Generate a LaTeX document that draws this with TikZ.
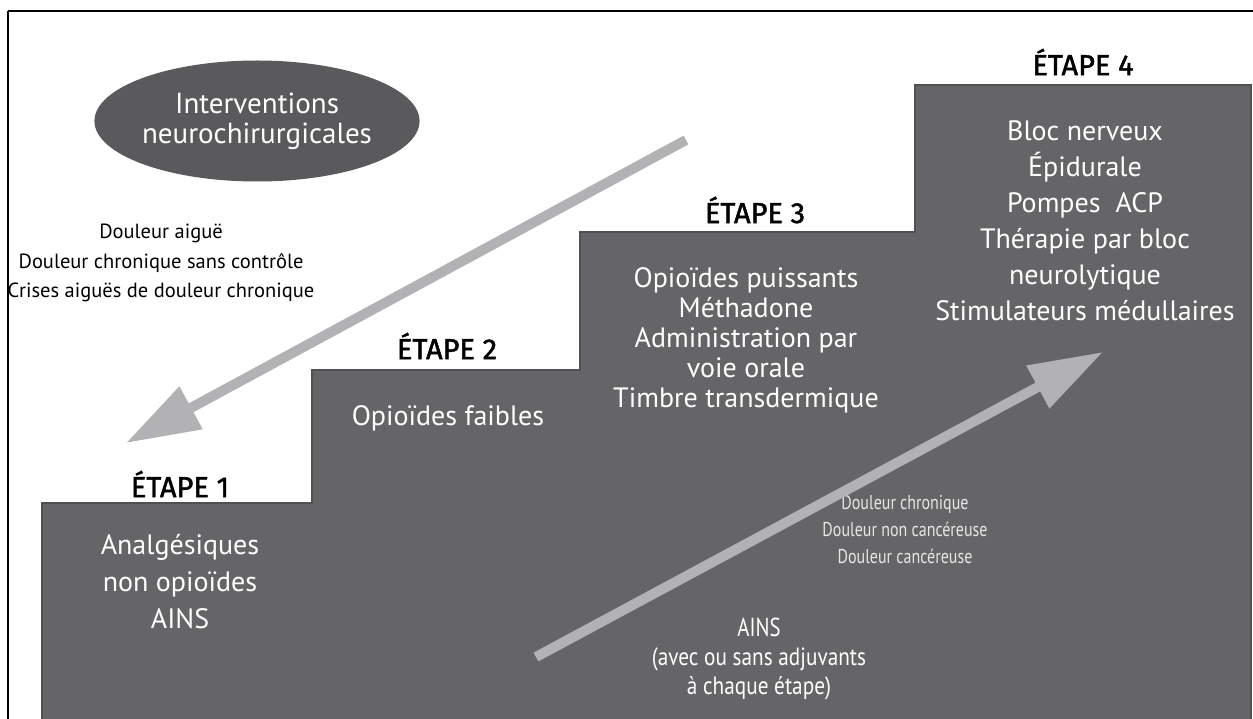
\documentclass[tikz,border=0pt]{standalone}
\usepackage{fontspec}
\setmainfont{PT Sans}
\newfontfamily\smallnarrow[FakeStretch=0.8]{PT Sans}
\newfontfamily\adjfont[FakeStretch=0.85]{PT Sans}
\newfontfamily\titlefont[FakeBold=1.6]{Fira Sans}
\usetikzlibrary{arrows.meta,shapes.geometric}
\definecolor{stairgray}{HTML}{656567}
\definecolor{stairedge}{HTML}{505052}
\definecolor{ellgray}{HTML}{5A5A5C}
\definecolor{arrowgray}{HTML}{B2B2B4}
\definecolor{paletext}{HTML}{E6E6E6}
\tikzset{
  steptitle/.style={text=black, font=\titlefont\fontsize{29}{30}\selectfont, inner sep=0pt},
  stepbody/.style={text=white, align=center, font=\fontsize{28}{31}\selectfont, inner sep=0pt},
  sidetext/.style={align=center, inner sep=0pt},
  bigarrow/.style={draw=arrowgray, line width=10pt, line cap=butt, -{Triangle[length=74pt,width=46pt]}},
}
\begin{document}
\begin{tikzpicture}[x=1pt,y=-1pt]
\useasboundingbox (0,0) rectangle (1253,719);
\fill[white] (0,0) rectangle (1253,719);
% frame
\draw[black, line width=1.6pt] (8,11) -- (1260,11);
\draw[black, line width=1.6pt] (8,11) -- (8,730);
% stairs
\filldraw[fill=stairgray, draw=stairedge, line width=2pt]
  (42,730) -- (42,503) -- (312,503) -- (312,370) -- (580,370) -- (580,232)
  -- (915,232) -- (915,85) -- (1251,85) -- (1251,730) -- cycle;
% ellipse
\node[ellipse, fill=ellgray, minimum width=253pt, minimum height=121pt, inner sep=0pt,
      text=white, align=center, font=\fontsize{29}{30}\selectfont] (interv) at (257,121)
  {Interventions\\neurochirurgicales};
% left text
\node[sidetext, font=\fontsize{20.5}{29.5}\selectfont] (aigue) at (161,263)
  {Douleur aiguë\\Douleur chronique sans contrôle\\Crises aiguës de douleur chronique};
% step titles
\node[steptitle] (t1) at (180,484) {ÉTAPE 1};
\node[steptitle] (t2) at (447,346) {ÉTAPE 2};
\node[steptitle] (t3) at (755,210) {ÉTAPE 3};
\node[steptitle] (t4) at (1083,62) {ÉTAPE 4};
% step bodies
\node[stepbody, font=\fontsize{28}{37}\selectfont] (b1) at (180,582) {Analgésiques\\non opioïdes\\AINS};
\node[stepbody] (b2) at (448,418) {Opioïdes faibles};
\node[stepbody, font=\fontsize{28}{30}\selectfont] (b3) at (746,340)
  {Opioïdes puissants\\Méthadone\\Administration par\\voie orale\\Timbre transdermique};
\node[stepbody, font=\fontsize{28}{36}\selectfont] (b4) at (1085,221)
  {Bloc nerveux\\Épidurale\\Pompes\ \ ACP\\Thérapie par bloc\\neurolytique\\Stimulateurs médullaires};
% right texts
\node[sidetext, text=paletext, font=\smallnarrow\fontsize{20}{27}\selectfont] (chron) at (905,530)
  {Douleur chronique\\Douleur non cancéreuse\\Douleur cancéreuse};
\node[sidetext, text=white, font=\smallnarrow\fontsize{26}{28}\selectfont] (ains) at (759,627) {AINS};
\node[sidetext, text=white, font=\adjfont\fontsize{25}{28.5}\selectfont] (adj) at (759,674)
  {(avec ou sans adjuvants\\à chaque étape)};
% arrows
\coordinate (dstart) at (686,140);
\coordinate (dend) at (126,443);
\coordinate (ustart) at (536,657);
\coordinate (uend) at (1103,352);
\draw[bigarrow] (dstart) -- (dend);
\draw[bigarrow] (ustart) -- (uend);
\end{tikzpicture}
\end{document}
